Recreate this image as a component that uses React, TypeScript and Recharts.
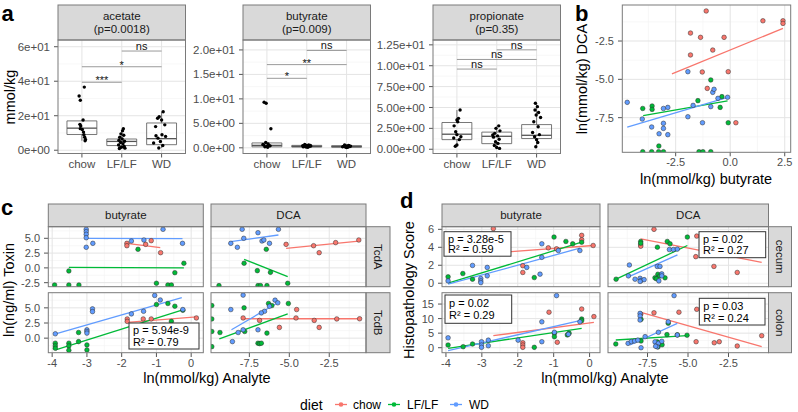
import React from 'react';
import { ScatterChart, Scatter, XAxis, YAxis, CartesianGrid, ReferenceLine, ReferenceArea } from 'recharts';

const FONT = '"Liberation Sans", Arial, Helvetica, sans-serif';

type Pt = [number, number];
type Seg = [number, number, number, number];
type Sig = [number, number, number, string];

// ---------- shared ----------
const diets = ['chow', 'LF/LF', 'WD'];
const dietColors = ['#F8766D', '#00BA38', '#619CFF'];

// ---------- panel a ----------
const aCategories = ['chow', 'LF/LF', 'WD'];
const aCatPos = [1, 2, 3];

const acetateChow: Pt[] = [[0.93, 31.4], [0.96, 29.0], [1.06, 36.6], [1.03, 17.5], [0.95, 15.0], [0.97, 14.0], [0.96, 12.5], [1.01, 12.0], [1.04, 10.5], [1.05, 9.0], [1.07, 7.5], [1.09, 6.2], [1.08, 5.5]];
const acetateLF: Pt[] = [[2.04, 12.5], [2.02, 11.3], [1.98, 9.5], [2.05, 8.7], [1.95, 7.5], [2.01, 6.5], [1.93, 5.8], [2.07, 5.2], [1.97, 4.5], [2.03, 3.8], [1.92, 3.0], [2.06, 2.2], [1.96, 1.5], [2.08, 1.2], [1.94, 1.0], [2.0, 1.8]];
const acetateWD: Pt[] = [[3.04, 22.3], [2.94, 19.4], [2.9, 18.5], [3.0, 17.5], [3.08, 14.7], [2.85, 13.7], [2.86, 8.4], [3.01, 9.0], [3.1, 8.0], [2.91, 7.0], [2.97, 5.1], [2.8, 4.2], [3.03, 2.7], [2.93, 1.3]];
const acetateBoxes = [[5.5, 9.1, 12.8, 17.0, 17.6], [1.0, 2.7, 5.1, 6.5, 11.3], [1.3, 3.2, 6.7, 15.8, 22.3]];
const acetateSig: Sig[] = [[1, 2, 39.4, '***'], [1, 3, 48.4, '*'], [2, 3, 57.5, 'ns']];
const acetateTicks = [0, 20, 40, 60];
const acetateTickLabels = ['0e+00', '2e+01', '4e+01', '6e+01'];
const acetateMinor = [10, 30, 50];

const butyrateChow: Pt[] = [[0.93, 9.3], [0.98, 9.1], [1.1, 3.9], [0.97, 1.1], [1.03, 0.8], [0.92, 0.6], [1.05, 0.5], [1.0, 0.3], [0.95, 0.2], [1.08, 0.4], [1.02, 0.1], [0.9, 0.7]];
const butyrateLF: Pt[] = [[1.95, 0.7], [2.05, 0.6], [2.0, 0.5], [1.93, 0.4], [2.07, 0.3], [1.97, 0.2], [2.03, 0.1], [2.09, 0.5], [1.91, 0.2], [2.0, 0.15], [2.1, 0.35], [1.9, 0.45]];
const butyrateWD: Pt[] = [[2.95, 0.6], [3.05, 0.5], [3.0, 0.4], [2.92, 0.3], [3.08, 0.25], [2.97, 0.15], [3.03, 0.1], [3.1, 0.35], [2.9, 0.2], [3.0, 0.05], [3.06, 0.45]];
const butyrateBoxes = [[0.1, 0.2, 0.5, 1.0, 1.1], [0.1, 0.15, 0.3, 0.5, 0.7], [0.05, 0.12, 0.25, 0.45, 0.6]];
const butyrateSig: Sig[] = [[1, 2, 14.2, '*'], [1, 3, 17.0, '**'], [2, 3, 19.9, 'ns']];
const butyrateTicks = [0, 5, 10, 15, 20];
const butyrateTickLabels = ['0.0e+00', '5.0e+00', '1.0e+01', '1.5e+01', '2.0e+01'];
const butyrateMinor = [2.5, 7.5, 12.5, 17.5];

const propionateChow: Pt[] = [[1.08, 4.7], [1.0, 3.5], [1.04, 3.7], [0.93, 2.8], [0.97, 2.1], [1.0, 1.75], [1.1, 1.5], [0.92, 1.35], [1.06, 1.15], [1.0, 0.5], [0.96, 0.35], [1.02, 3.3]];
const propionateLF: Pt[] = [[2.05, 2.8], [1.98, 2.5], [2.08, 2.2], [1.95, 1.9], [2.02, 1.6], [1.92, 1.45], [2.06, 1.2], [1.97, 0.9], [2.03, 0.7], [1.94, 0.45], [2.0, 0.2], [2.07, 0.1], [1.9, 1.7]];
const propionateWD: Pt[] = [[2.97, 5.5], [3.02, 5.1], [2.96, 4.7], [3.05, 4.4], [2.99, 4.1], [3.1, 3.8], [2.93, 3.3], [3.04, 2.7], [2.9, 2.0], [3.07, 1.75], [2.95, 1.5], [3.0, 1.15], [3.03, 0.8], [2.98, 0.3]];
const propionateBoxes = [[0.35, 1.15, 1.8, 3.2, 4.7], [0.1, 0.67, 1.55, 2.05, 2.8], [0.3, 1.28, 1.67, 2.95, 5.5]];
const propionateSig: Sig[] = [[1, 2, 9.6, 'ns'], [1, 3, 10.75, 'ns'], [2, 3, 11.9, 'ns']];
const propionateTicks = [0, 2.5, 5, 7.5, 10, 12.5];
const propionateTickLabels = ['0.00e+00', '2.50e+00', '5.00e+00', '7.50e+00', '1.00e+01', '1.25e+01'];
const propionateMinor = [1.25, 3.75, 6.25, 8.75, 11.25];

// ---------- panel b ----------
const bChow: Pt[] = [[-1.10, -0.54], [1.50, -1.18], [2.42, -1.18], [2.42, -1.35], [-1.82, -1.98], [-1.36, -2.26], [-0.28, -2.26], [-0.80, -3.09], [-1.82, -3.41], [-1.28, -4.52], [-0.09, -4.50], [-1.05, -5.59], [0.26, -7.83]];
const bLF: Pt[] = [[-0.89, -5.04], [-1.48, -6.39], [-0.38, -6.13], [-0.46, -6.83], [-4.01, -6.90], [-3.58, -6.74], [-3.58, -6.96], [-0.09, -7.83], [-3.27, -9.35], [-4.01, -9.72], [-3.60, -9.72], [-3.28, -9.72], [-3.06, -9.72], [-1.43, -9.72], [-1.25, -9.72], [-0.89, -9.72]];
const bWD: Pt[] = [[-4.72, -6.50], [-1.94, -4.50], [-0.80, -5.85], [-0.74, -5.65], [-0.12, -6.17], [-0.56, -6.24], [-0.89, -6.78], [-1.70, -6.70], [-3.06, -6.90], [-2.86, -6.83], [-4.03, -7.59], [-1.94, -7.44], [-1.27, -7.83], [-3.60, -8.11], [-3.06, -7.87], [-3.06, -8.20], [-3.26, -8.55], [-2.86, -8.61]];
const bFits: Seg[] = [[-2.67, -4.65, 2.42, -1.67], [-3.99, -7.37, -0.12, -6.41], [-4.72, -8.11, -0.12, -6.17]];
const bXTicks = [-2.5, 0, 2.5];
const bXTickLabels = ['-2.5', '0.0', '2.5'];
const bXMinor = [-3.75, -1.25, 1.25];
const bYTicks = [-7.5, -5, -2.5];
const bYTickLabels = ['-7.5', '-5.0', '-2.5'];
const bYMinor = [-8.75, -6.25, -3.75, -1.25];

// ---------- panel c (toxin) ----------
const cAButChow: Pt[] = [[-1.85, 4.15], [-1.85, 3.75], [-1.31, 3.98], [-1.15, 4.6], [-0.88, 2.57]];
const cAButLF: Pt[] = [[-1.53, 3.14], [-3.52, -0.52], [-0.21, 0.78], [-0.47, -0.81], [-1.0, -2.6], [-3.93, -2.89], [-3.52, -2.89], [-3.23, -2.89], [-0.67, -2.89], [-0.57, -2.89]];
const cAButWD: Pt[] = [[-3.02, 6.52], [-3.02, 6.12], [-3.02, 5.68], [-3.02, 5.1], [-3.02, 3.48], [-2.83, 4.15], [-1.72, 4.54], [-1.36, 4.71], [-0.81, 6.52], [-0.25, 4.15]];
const cAButFits: Seg[] = [[-1.85, 4.15, -0.89, 3.42], [-3.52, 0.1, -0.21, 0.0], [-3.02, 5.0, -0.25, 4.95]];

const cADcaChow: Pt[] = [[-5.2, 3.98], [-3.48, 3.75], [-3.13, 2.57], [-2.1, 4.27], [-0.65, 4.71]];
const cADcaLF: Pt[] = [[-6.44, 3.14], [-7.83, 0.78], [-7.0, -0.47], [-6.18, -0.75], [-5.1, -2.6], [-9.4, -3.0], [-6.96, -3.0], [-6.8, -3.0], [-6.4, -3.0]];
const cADcaWD: Pt[] = [[-7.95, 6.52], [-6.96, 5.95], [-5.68, 6.52], [-7.85, 5.0], [-8.66, 4.15], [-8.25, 3.48], [-6.71, 4.54], [-6.59, 4.71], [-6.24, 4.15]];
const cADcaFits: Seg[] = [[-5.2, 3.31, -0.65, 4.54], [-7.83, 1.45, -5.1, -1.49], [-8.66, 4.43, -5.68, 5.56]];

const cBButChow: Pt[] = [[-1.84, 3.17], [-1.84, 2.77], [-1.38, 3.17], [-1.15, 3.17], [0.15, 3.33]];
const cBButLF: Pt[] = [[-3.91, -0.83], [-3.91, -1.28], [-3.91, -1.67], [-3.52, -0.83], [-3.52, -1.28], [-3.52, -2.0], [-3.24, 0.93], [-3.24, -0.57], [-3.0, -1.12], [-3.0, -1.95], [-1.0, 5.55], [-0.67, 5.72], [-0.47, 5.27], [-0.24, 4.6], [-0.57, 2.77]];
const cBButWD: Pt[] = [[-3.91, 0.72], [-2.84, 4.83], [-2.84, 4.38], [-3.0, 1.38], [-3.0, 1.1], [-3.0, 0.83], [-1.72, 4.0], [-1.37, 4.43], [-1.05, 7.05], [-0.89, 6.3], [-0.24, 4.72]];
const cBButFits: Seg[] = [[-1.84, 2.6, 0.15, 3.5], [-3.9, -1.95, -0.22, 4.72], [-3.9, 0.72, -0.27, 6.67]];

const cBDcaChow: Pt[] = [[-7.89, 3.33], [-6.86, 2.93], [-4.54, 4.72], [-4.58, 3.33], [-3.44, 2.93], [-2.03, 3.17], [-0.6, 3.2], [-5.62, 1.77], [-3.13, 1.77]];
const cBDcaLF: Pt[] = [[-9.85, 5.38], [-9.85, 3.17], [-9.85, 1.1], [-9.85, -1.4], [-9.34, 0.93], [-7.83, 5.0], [-6.3, 5.72], [-6.09, 5.38], [-5.06, 5.72], [-6.4, 0.83], [-6.96, -0.83], [-6.86, -0.9], [-6.75, -0.83], [-7.79, 1.1]];
const cBDcaWD: Pt[] = [[-7.89, 7.1], [-8.66, 4.72], [-5.89, 6.27], [-5.72, 5.83], [-6.24, 5.27], [-6.55, 4.43], [-6.75, 4.17], [-8.2, 0.93], [-7.89, 1.38], [-6.96, 1.38], [-8.56, -0.57]];
const cBDcaFits: Seg[] = [[-7.89, 3.2, -0.6, 3.2], [-9.38, -0.12, -5.1, 4.0], [-8.62, 1.38, -5.67, 5.93]];

// ---------- panel d (histopathology) ----------
const dCButChow: Pt[] = [[-2.68, 6.08], [-1.15, 3.94], [-0.92, 3.83], [-0.22, 5.33], [-0.22, 4.84], [0.10, 4.2], [-1.86, 1.95], [-1.86, 1.2]];
const dCButLF: Pt[] = [[-3.94, 0.71], [-3.53, 1.08], [-3.26, 0.45], [-1.54, 0.63], [-0.99, 5.14], [-0.66, 4.65], [-0.47, 4.39], [-0.22, 4.57]];
const dCButWD: Pt[] = [[-3.94, 0.26], [-3.26, 1.98], [-3.03, 0.52], [-3.03, 0.26], [-3.03, 0.07], [-2.85, 1.76], [-2.85, 0.82], [-1.75, 1.76], [-1.38, 1.01], [-1.33, 4.39], [-1.33, 2.88], [-0.87, 3.64], [-0.27, 3.64]];
const dCButFits: Seg[] = [[-2.68, 3.38, 0.10, 4.2], [-3.94, 0.0, -0.22, 4.57], [-3.94, -0.11, -0.27, 3.9]];

const dCDcaChow: Pt[] = [[-7.1, 6.0], [-7.92, 4.28], [-7.92, 4.12], [-4.46, 5.25], [-4.52, 2.96], [-3.4, 1.87], [-1.96, 1.2]];
const dCDcaLF: Pt[] = [[-7.92, 4.65], [-7.92, 4.46], [-6.89, 4.01], [-6.28, 4.65], [-6.11, 4.39], [-5.04, 5.14], [-9.44, 0.45], [-7.04, 0.6], [-6.86, 1.0], [-6.75, 0.8], [-6.42, 0.6], [-6.95, 0.5]];
const dCDcaWD: Pt[] = [[-8.62, 2.03], [-8.68, 0.82], [-8.27, 0.45], [-7.96, 0.55], [-7.9, 0.3], [-7.71, 0.4], [-7.96, 0.2], [-6.9, 1.87], [-6.73, 1.87], [-6.62, 1.04], [-6.62, 0.82], [-6.8, 0.26], [-6.15, 3.75], [-5.9, 3.75], [-5.66, 3.8]];
const dCDcaFits: Seg[] = [[-7.92, 4.95, -0.45, 2.32], [-9.44, 0.45, -5.04, 4.2], [-8.68, 0.71, -5.65, 3.15]];

const dLButChow: Pt[] = [[-1.13, 12.2], [-0.22, 13.3], [0.12, 10.7], [-0.9, 1.86], [-1.86, 1.7], [-1.86, 0.92], [-1.86, 0.13]];
const dLButLF: Pt[] = [[-3.94, 0.92], [-3.52, 0.35], [-3.26, 1.27], [-1.54, 0.13], [-0.98, 4.93], [-0.98, 3.78], [-0.62, 4.4], [-0.57, 5.0], [-0.22, 9.86], [-0.22, 9.3]];
const dLButWD: Pt[] = [[-0.92, 17.9], [-1.33, 8.9], [-3.94, 3.4], [-3.01, 2.06], [-3.01, 0.92], [-3.01, 0.13], [-2.82, 2.6], [-2.82, 0.68], [-1.99, 2.6], [-1.33, 2.06], [-0.98, 5.3], [-0.59, 4.6], [-0.27, 8.9]];
const dLButFits: Seg[] = [[-2.68, 4.13, 0.12, 8.72], [-3.94, -0.2, -0.22, 6.67], [-3.94, -1.0, -0.27, 9.3]];

const dLDcaChow: Pt[] = [[-7.1, 12.0], [-5.56, 12.2], [-4.46, 13.2], [-4.5, 2.06], [-3.38, 1.7], [-3.07, 2.06], [-1.96, 0.58], [-0.45, 4.13], [-7.92, 11.5]];
const dLDcaLF: Pt[] = [[-7.9, 9.75], [-6.22, 8.4], [-9.46, 1.27], [-6.3, 4.5], [-5.66, 4.4], [-5.06, 4.3], [-7.9, 2.3], [-6.9, 2.0], [-6.85, 0.3], [-6.6, 1.0]];
const dLDcaWD: Pt[] = [[-5.86, 17.9], [-7.96, 11.8], [-7.96, 10.9], [-7.96, 9.5], [-6.22, 8.9], [-7.65, 3.8], [-6.83, 5.3], [-5.66, 4.37], [-8.7, 1.5], [-8.5, 2.1], [-8.3, 2.3], [-8.1, 2.6], [-7.9, 0.0], [-7.04, 2.0], [-6.83, 1.5], [-6.62, 2.2], [-6.9, 0.3], [-7.0, 0.5]];
const dLDcaFits: Seg[] = [[-7.9, 12.15, -0.45, 0.35], [-9.46, 2.65, -5.06, 4.13], [-8.58, 0.92, -5.66, 8.38]];

// axis ticks for c/d
const butXTicks = [-4, -3, -2, -1, 0];
const butXTickLabels = ['-4', '-3', '-2', '-1', '0'];
const butXMinor = [-3.5, -2.5, -1.5, -0.5];
const dcaXTicks = [-7.5, -5, -2.5];
const dcaXTickLabels = ['-7.5', '-5.0', '-2.5'];
const dcaXMinor = [-8.75, -6.25, -3.75, -1.25];
const toxAYTicks = [-2.5, 0, 2.5, 5];
const toxAYTickLabels = ['-2.5', '0.0', '2.5', '5.0'];
const toxBYTicks = [0, 2.5, 5];
const toxBYTickLabels = ['0.0', '2.5', '5.0'];
const toxYMinor = [-1.25, 1.25, 3.75, 6.25];
const cecumYTicks = [0, 2, 4, 6];
const cecumYTickLabels = ['0', '2', '4', '6'];
const cecumYMinor = [1, 3, 5];
const colonYTicks = [0, 5, 10, 15];
const colonYTickLabels = ['0', '5', '10', '15'];
const colonYMinor = [2.5, 7.5, 12.5, 17.5];

// ---------- components ----------
interface Series { pts: Pt[]; fill: string; stroke: string; r: number; sw: number; }
interface FacetProps {
  L: number; T: number; W: number; H: number;
  xDomain: [number, number]; yDomain: [number, number];
  xTicks: number[]; xLabels: string[]; yTicks: number[]; yLabels: string[];
  xMinor: number[]; yMinor: number[];
  showX: boolean; showY: boolean; yw: number; fs: number;
  series: Series[]; fits?: { seg: Seg; color: string }[];
  extras?: React.ReactNode[];
}

const fmt = (ticks: number[], labels: string[]) => (v: number) => {
  const i = ticks.findIndex(t => Math.abs(t - v) < 1e-9);
  return i >= 0 ? labels[i] : String(v);
};

const PAD = 8;

function Facet(p: FacetProps) {
  const yw = p.showY ? p.yw : 0;
  const xh = p.showX ? 24 : 0;
  const tick = { fontSize: p.fs, fill: '#4D4D4D', fontFamily: FONT };
  return (
    <div style={{ position: 'absolute', left: p.L - yw, top: p.T - PAD }}>
      <ScatterChart width={p.W + yw + PAD} height={p.H + xh + 2 * PAD} margin={{ top: PAD, right: PAD, bottom: PAD, left: 0 }}>
        <CartesianGrid horizontalValues={p.yMinor} verticalValues={p.xMinor} horizontal={p.yMinor.length > 0} vertical={p.xMinor.length > 0} stroke="#F2F2F2" strokeWidth={0.6} />
        <CartesianGrid horizontalValues={p.yTicks} verticalValues={p.xTicks} stroke="#E4E4E4" strokeWidth={1} />
        <XAxis type="number" dataKey="x" domain={p.xDomain} allowDataOverflow ticks={p.xTicks} interval={0}
          tickFormatter={fmt(p.xTicks, p.xLabels)} hide={!p.showX} height={xh} tick={tick}
          tickSize={4} tickMargin={2} tickLine={{ stroke: '#555' }} axisLine={false} />
        <YAxis type="number" dataKey="y" domain={p.yDomain} allowDataOverflow ticks={p.yTicks} interval={0}
          tickFormatter={fmt(p.yTicks, p.yLabels)} hide={!p.showY} width={yw} tick={tick}
          tickSize={4} tickMargin={4} tickLine={{ stroke: '#555' }} axisLine={false} />
        {p.extras}
        {p.series.map((s, i) => (
          <Scatter key={'s' + i} data={s.pts.map(([x, y]) => ({ x, y }))} isAnimationActive={false}
            shape={(q: any) => <circle cx={q.cx} cy={q.cy} r={s.r} fill={s.fill} stroke={s.stroke} strokeWidth={s.sw} />} />
        ))}
        {(p.fits || []).map((f, i) => (
          <ReferenceLine key={'f' + i} segment={[{ x: f.seg[0], y: f.seg[1] }, { x: f.seg[2], y: f.seg[3] }]}
            stroke={f.color} strokeWidth={1.3} ifOverflow="visible" />
        ))}
      </ScatterChart>
    </div>
  );
}

const colored = (arrs: Pt[][]): Series[] => arrs.map((pts, i) => ({ pts, fill: dietColors[i], stroke: '#2a2a2a', r: 2.3, sw: 0.5 }));
const fitLines = (segs: Seg[]) => segs.map((seg, i) => ({ seg, color: dietColors[i] }));
const black = (arrs: Pt[][]): Series[] => arrs.map(pts => ({ pts, fill: '#000', stroke: 'none', r: 1.7, sw: 0 }));

function boxExtras(boxes: number[][], sig: Sig[]) {
  const els: React.ReactNode[] = [];
  boxes.forEach((b, i) => {
    const c = aCatPos[i];
    els.push(<ReferenceLine key={'wl' + i} segment={[{ x: c, y: b[0] }, { x: c, y: b[1] }]} stroke="#555" strokeWidth={0.8} ifOverflow="visible" />);
    els.push(<ReferenceLine key={'wh' + i} segment={[{ x: c, y: b[3] }, { x: c, y: b[4] }]} stroke="#555" strokeWidth={0.8} ifOverflow="visible" />);
    els.push(<ReferenceArea key={'bx' + i} x1={c - 0.375} x2={c + 0.375} y1={b[1]} y2={b[3]} fill="#fff" fillOpacity={0} stroke="#555" strokeWidth={0.8} ifOverflow="visible" />);
    els.push(<ReferenceLine key={'md' + i} segment={[{ x: c - 0.375, y: b[2] }, { x: c + 0.375, y: b[2] }]} stroke="#555" strokeWidth={1.3} ifOverflow="visible" />);
  });
  sig.forEach(([a, b, y, lab], i) => {
    els.push(<ReferenceLine key={'sg' + i} segment={[{ x: a, y }, { x: b, y }]} stroke="#808080" strokeWidth={0.8} ifOverflow="visible"
      label={{ value: lab, position: 'top', offset: lab.startsWith('*') ? -2 : 1, fontSize: 11, fill: '#111', fontFamily: FONT }} />);
  });
  return els;
}

// layout
const A_T = 40, A_H = 113.5, A_W = 127.5;
const A_L = [58, 243, 433];
const ROW_T = [226.7, 292.7], ROW_H = 60;
const C_L = [48.3, 211], C_W = 155;
const D_L = [442, 608], D_W = [158, 160.5];
const STRIP_T = 204, STRIP_H = 22.7;

const BORDER = '#7a7a7a';
const STRIP_FILL = '#D9D9D9';

function Strip({ x, y, w, h, lines, rot }: { x: number; y: number; w: number; h: number; lines: string[]; rot?: boolean }) {
  const cx = x + w / 2, cy = y + h / 2;
  return (
    <g>
      <rect x={x} y={y} width={w} height={h} fill={STRIP_FILL} stroke={BORDER} strokeWidth={1} />
      {rot ? (
        <text transform={`translate(${cx},${cy}) rotate(90)`} textAnchor="middle" dominantBaseline="central" fontSize={11.5} fill="#1A1A1A">{lines[0]}</text>
      ) : lines.map((l, i) => (
        <text key={i} x={cx} y={cy + (i - (lines.length - 1) / 2) * 12.6} textAnchor="middle" dominantBaseline="central" fontSize={11.5} fill="#1A1A1A">{l}</text>
      ))}
    </g>
  );
}

function Annot({ x, y, w, h, p, r2 }: { x: number; y: number; w: number; h: number; p: string; r2: string }) {
  return (
    <g>
      <rect x={x} y={y} width={w} height={h} fill="#fff" stroke="#333" strokeWidth={1} />
      <text x={x + 4} y={y + h * 0.28} dominantBaseline="central" fontSize={11} fill="#000">{p}</text>
      <text x={x + 4} y={y + h * 0.72} dominantBaseline="central" fontSize={11} fill="#000">{r2}</text>
    </g>
  );
}

export default function App() {
  const aFacets = [
    { name: ['acetate', '(p=0.0018)'], pts: [acetateChow, acetateLF, acetateWD], boxes: acetateBoxes, sig: acetateSig, dom: [-1.9, 63.9] as [number, number], ticks: acetateTicks, labels: acetateTickLabels, minor: acetateMinor, yw: 50 },
    { name: ['butyrate', '(p=0.009)'], pts: [butyrateChow, butyrateLF, butyrateWD], boxes: butyrateBoxes, sig: butyrateSig, dom: [-1.16, 22.03] as [number, number], ticks: butyrateTicks, labels: butyrateTickLabels, minor: butyrateMinor, yw: 60 },
    { name: ['propionate', '(p=0.35)'], pts: [propionateChow, propionateLF, propionateWD], boxes: propionateBoxes, sig: propionateSig, dom: [-0.51, 13.08] as [number, number], ticks: propionateTicks, labels: propionateTickLabels, minor: propionateMinor, yw: 70 },
  ];

  const cFacets = [
    { r: 0, c: 0, pts: [cAButChow, cAButLF, cAButWD], fits: cAButFits },
    { r: 0, c: 1, pts: [cADcaChow, cADcaLF, cADcaWD], fits: cADcaFits },
    { r: 1, c: 0, pts: [cBButChow, cBButLF, cBButWD], fits: cBButFits },
    { r: 1, c: 1, pts: [cBDcaChow, cBDcaLF, cBDcaWD], fits: cBDcaFits },
  ];
  const cYDom: [number, number][] = [[-3.23, 6.91], [-2.45, 7.45]];
  const cXDom: [number, number][] = [[-4.12, 0.34], [-9.9, -0.2]];
  const cYT = [toxAYTicks, toxBYTicks];
  const cYL = [toxAYTickLabels, toxBYTickLabels];

  const dFacets = [
    { r: 0, c: 0, pts: [dCButChow, dCButLF, dCButWD], fits: dCButFits },
    { r: 0, c: 1, pts: [dCDcaChow, dCDcaLF, dCDcaWD], fits: dCDcaFits },
    { r: 1, c: 0, pts: [dLButChow, dLButLF, dLButWD], fits: dLButFits },
    { r: 1, c: 1, pts: [dLDcaChow, dLDcaLF, dLDcaWD], fits: dLDcaFits },
  ];
  const dYDom: [number, number][] = [[-0.42, 6.26], [-1.82, 18.8]];
  const dXDom: [number, number][] = [[-4.11, 0.29], [-9.94, -0.03]];
  const dYT = [cecumYTicks, colonYTicks];
  const dYL = [cecumYTickLabels, colonYTickLabels];
  const dYM = [cecumYMinor, colonYMinor];

  const xT = [butXTicks, dcaXTicks];
  const xL = [butXTickLabels, dcaXTickLabels];
  const xM = [butXMinor, dcaXMinor];

  const legendX = [335, 388, 450];
  const legendTextX = [353, 407, 469];
  const LEG_Y = 404.5;

  return (
    <div style={{ position: 'absolute', left: 0, top: 0, width: 798, height: 412, background: '#fff', fontFamily: FONT, overflow: 'hidden' }}>
      {aFacets.map((f, i) => (
        <Facet key={'a' + i} L={A_L[i]} T={A_T} W={A_W} H={A_H} xDomain={[0.4, 3.6]} yDomain={f.dom}
          xTicks={aCatPos} xLabels={aCategories} yTicks={f.ticks} yLabels={f.labels} xMinor={[]} yMinor={f.minor}
          showX showY yw={f.yw} fs={11.5} series={black(f.pts)} extras={boxExtras(f.boxes, f.sig)} />
      ))}

      <Facet L={622.3} T={5} W={168.4} H={147.3} xDomain={[-4.96, 2.76]} yDomain={[-9.76, -0.15]}
        xTicks={bXTicks} xLabels={bXTickLabels} yTicks={bYTicks} yLabels={bYTickLabels} xMinor={bXMinor} yMinor={bYMinor}
        showX showY yw={31} fs={11} series={colored([bChow, bLF, bWD])} fits={fitLines(bFits)} />

      {cFacets.map((f, i) => (
        <Facet key={'c' + i} L={C_L[f.c]} T={ROW_T[f.r]} W={C_W} H={ROW_H} xDomain={cXDom[f.c]} yDomain={cYDom[f.r]}
          xTicks={xT[f.c]} xLabels={xL[f.c]} yTicks={cYT[f.r]} yLabels={cYL[f.r]} xMinor={xM[f.c]} yMinor={toxYMinor}
          showX={f.r === 1} showY={f.c === 0} yw={32} fs={11} series={colored(f.pts)} fits={fitLines(f.fits)} />
      ))}

      {dFacets.map((f, i) => (
        <Facet key={'d' + i} L={D_L[f.c]} T={ROW_T[f.r]} W={D_W[f.c]} H={ROW_H} xDomain={dXDom[f.c]} yDomain={dYDom[f.r]}
          xTicks={xT[f.c]} xLabels={xL[f.c]} yTicks={dYT[f.r]} yLabels={dYL[f.r]} xMinor={xM[f.c]} yMinor={dYM[f.r]}
          showX={f.r === 1} showY={f.c === 0} yw={24} fs={11} series={colored(f.pts)} fits={fitLines(f.fits)} />
      ))}

      <svg width={798} height={412} style={{ position: 'absolute', left: 0, top: 0, pointerEvents: 'none', fontFamily: FONT }}>
        {/* panel a */}
        {aFacets.map((f, i) => (
          <g key={'ab' + i}>
            <Strip x={A_L[i]} y={5} w={A_W} h={35} lines={f.name} />
            <rect x={A_L[i]} y={A_T} width={A_W} height={A_H} fill="none" stroke={BORDER} strokeWidth={1} />
          </g>
        ))}
        <text transform="translate(10,97) rotate(-90)" textAnchor="middle" dominantBaseline="central" fontSize={14.5} fill="#000">mmol/kg</text>
        <text x={1.5} y={21} fontSize={22} fontWeight={700} fill="#000">a</text>

        {/* panel b */}
        <rect x={622.3} y={5} width={168.4} height={147.3} fill="none" stroke={BORDER} strokeWidth={1} />
        <text transform="translate(582,79) rotate(-90)" textAnchor="middle" dominantBaseline="central" fontSize={14.5} fill="#000">ln(mmol/kg) DCA</text>
        <text x={706} y={179} textAnchor="middle" dominantBaseline="central" fontSize={14.5} fill="#000">ln(mmol/kg) butyrate</text>
        <text x={575} y={21} fontSize={22} fontWeight={700} fill="#000">b</text>

        {/* panel c */}
        <Strip x={C_L[0]} y={STRIP_T} w={C_W} h={STRIP_H} lines={['butyrate']} />
        <Strip x={C_L[1]} y={STRIP_T} w={C_W} h={STRIP_H} lines={['DCA']} />
        <Strip x={366} y={ROW_T[0]} w={24} h={ROW_H} lines={['TcdA']} rot />
        <Strip x={366} y={ROW_T[1]} w={24} h={ROW_H} lines={['TcdB']} rot />
        {cFacets.map((f, i) => (
          <rect key={'cb' + i} x={C_L[f.c]} y={ROW_T[f.r]} width={C_W} height={ROW_H} fill="none" stroke={BORDER} strokeWidth={1} />
        ))}
        <Annot x={129} y={323} w={70} h={26} p="p = 5.94e-9" r2="R² = 0.79" />
        <text transform="translate(9,290) rotate(-90)" textAnchor="middle" dominantBaseline="central" fontSize={14.5} fill="#000">ln(ng/ml) Toxin</text>
        <text x={207} y={378} textAnchor="middle" dominantBaseline="central" fontSize={14.5} fill="#000">ln(mmol/kg) Analyte</text>
        <text x={1} y={215} fontSize={22} fontWeight={700} fill="#000">c</text>

        {/* panel d */}
        <Strip x={D_L[0]} y={STRIP_T} w={D_W[0]} h={STRIP_H} lines={['butyrate']} />
        <Strip x={D_L[1]} y={STRIP_T} w={D_W[1]} h={STRIP_H} lines={['DCA']} />
        <Strip x={768.5} y={ROW_T[0]} w={23} h={ROW_H} lines={['cecum']} rot />
        <Strip x={768.5} y={ROW_T[1]} w={23} h={ROW_H} lines={['colon']} rot />
        {dFacets.map((f, i) => (
          <rect key={'db' + i} x={D_L[f.c]} y={ROW_T[f.r]} width={D_W[f.c]} height={ROW_H} fill="none" stroke={BORDER} strokeWidth={1} />
        ))}
        <Annot x={444} y={231.7} w={67} h={24.5} p="p = 3.28e-5" r2="R² = 0.59" />
        <Annot x={699} y={231.7} w={66.7} h={26} p="p = 0.02" r2="R² = 0.27" />
        <Annot x={445} y={295} w={66.7} h={28.3} p="p = 0.02" r2="R² = 0.29" />
        <Annot x={699.3} y={298.3} w={65.7} h={26.7} p="p = 0.03" r2="R² = 0.24" />
        <text transform="translate(409,290) rotate(-90)" textAnchor="middle" dominantBaseline="central" fontSize={14.5} fill="#000">Histopathology Score</text>
        <text x={605} y={378} textAnchor="middle" dominantBaseline="central" fontSize={14.5} fill="#000">ln(mmol/kg) Analyte</text>
        <text x={400} y={208} fontSize={22} fontWeight={700} fill="#000">d</text>

        {/* legend */}
        <text x={300} y={LEG_Y} dominantBaseline="central" fontSize={14} fill="#000">diet</text>
        {diets.map((d, i) => (
          <g key={'lg' + i}>
            <line x1={legendX[i]} x2={legendX[i] + 12} y1={LEG_Y} y2={LEG_Y} stroke={dietColors[i]} strokeWidth={1.3} />
            <circle cx={legendX[i] + 6} cy={LEG_Y} r={2.3} fill={dietColors[i]} />
            <text x={legendTextX[i]} y={LEG_Y} dominantBaseline="central" fontSize={12} fill="#000">{d}</text>
          </g>
        ))}
      </svg>
    </div>
  );
}
